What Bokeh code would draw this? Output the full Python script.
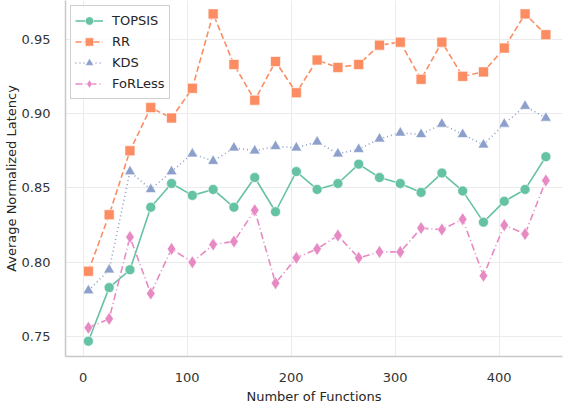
from bokeh.plotting import figure
from bokeh.models import Range1d, FixedTicker, Legend, LegendItem, CustomJSTickFormatter
from bokeh.embed import file_html
from bokeh.resources import INLINE

num_functions = [5, 25, 45, 65, 85, 105, 125, 145, 165, 185, 205, 225, 245, 265, 285, 305, 325, 345, 365, 385, 405, 425, 445]
topsis = [0.747, 0.783, 0.795, 0.837, 0.853, 0.845, 0.849, 0.837, 0.857, 0.834, 0.861, 0.849, 0.853, 0.866, 0.857, 0.853, 0.847, 0.860, 0.848, 0.827, 0.841, 0.849, 0.871]
rr = [0.794, 0.832, 0.875, 0.904, 0.897, 0.917, 0.967, 0.933, 0.909, 0.935, 0.914, 0.936, 0.931, 0.933, 0.946, 0.948, 0.923, 0.948, 0.925, 0.928, 0.944, 0.967, 0.953]
kds = [0.781, 0.795, 0.861, 0.849, 0.861, 0.873, 0.868, 0.877, 0.875, 0.878, 0.877, 0.881, 0.873, 0.876, 0.883, 0.887, 0.886, 0.893, 0.886, 0.879, 0.893, 0.905, 0.897]
forless = [0.756, 0.762, 0.817, 0.779, 0.809, 0.800, 0.812, 0.814, 0.835, 0.786, 0.803, 0.809, 0.818, 0.803, 0.807, 0.807, 0.823, 0.822, 0.829, 0.791, 0.825, 0.819, 0.855]
x_ticks = [0, 100, 200, 300, 400]
y_ticks = [0.75, 0.80, 0.85, 0.90, 0.95]

p = figure(width=565, height=406, output_backend="svg", toolbar_location=None,
           x_range=Range1d(-17, 461), y_range=Range1d(0.7367, 0.976),
           min_border_left=10, min_border_right=3, min_border_top=0, min_border_bottom=47)

p.outline_line_color = None
p.background_fill_color = "white"
for ax in (p.xaxis[0], p.yaxis[0]):
    ax.major_tick_line_color = None
    ax.minor_tick_line_color = None
    ax.axis_line_color = "#c8c8c8"
    ax.axis_line_width = 1.5
    ax.major_label_text_font = "DejaVu Sans"
    ax.major_label_text_font_size = "13px"
    ax.major_label_text_color = "#333333"
    ax.axis_label_text_font = "DejaVu Sans"
    ax.axis_label_text_font_size = "13px"
    ax.axis_label_text_font_style = "normal"
    ax.axis_label_text_color = "#262626"
p.xaxis.ticker = FixedTicker(ticks=x_ticks)
p.yaxis.ticker = FixedTicker(ticks=y_ticks)
p.yaxis.formatter = CustomJSTickFormatter(code="return tick.toFixed(2);")
p.xaxis.axis_label = "Number of Functions"
p.yaxis.axis_label = "Average Normalized Latency"
p.xaxis.major_label_standoff = 10
p.yaxis.major_label_standoff = 9
p.xaxis.axis_label_standoff = 4
p.yaxis.axis_label_standoff = 0
p.grid.grid_line_color = "#ebebeb"
p.grid.grid_line_width = 1

series = [
    ("TOPSIS", topsis, "#66c2a5", "solid", "circle", 10),
    ("RR", rr, "#fc8d62", "6 3", "square", 10),
    ("KDS", kds, "#8da0cb", "1 3", "triangle", 11),
    ("FoRLess", forless, "#e78ac3", "7 3 1 3", "diamond", 13),
]
items = []
for name, ys, col, dash, marker, size in series:
    l = p.line(num_functions, ys, line_color=col, line_width=1.6, line_dash=dash)
    m = p.scatter(num_functions, ys, marker=marker, size=size, fill_color=col,
                  line_color="white", line_width=0.6)
    items.append(LegendItem(label=name, renderers=[l, m]))

legend = Legend(items=items, location="top_left")
legend.label_text_font = "DejaVu Sans"
legend.label_text_font_size = "13px"
legend.label_text_color = "#262626"
legend.border_line_color = "#d0d0d0"
legend.border_line_alpha = 1
legend.background_fill_alpha = 0.85
legend.glyph_width = 28
legend.label_standoff = 9
legend.spacing = 0
legend.padding = 4
legend.margin = 5
legend.label_height = 19
legend.glyph_height = 21
p.add_layout(legend)

open("out.html", "w").write(file_html(p, INLINE))
